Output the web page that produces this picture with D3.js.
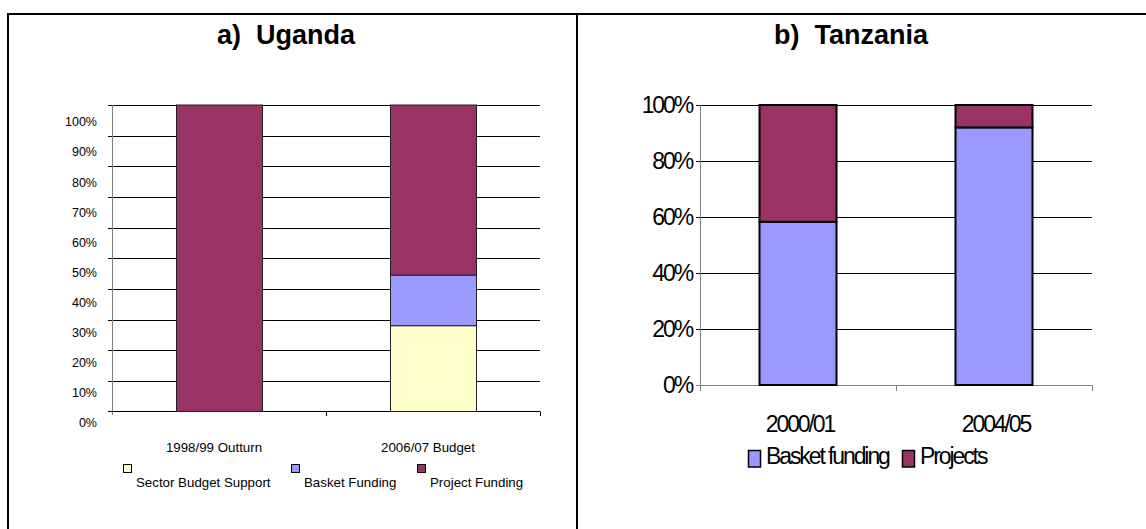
<!DOCTYPE html>
<html><head><meta charset="utf-8">
<script src="https://cdn.jsdelivr.net/npm/d3@7"></script>
<style>body{margin:0;background:#fff}svg{display:block}</style>
</head><body>
<svg id="c" width="1146" height="529"></svg>
<script>
// Uganda data (shares of total, %)
const ugCategories = ["1998/99 Outturn", "2006/07 Budget"];
const ugSeries = ["Sector Budget Support", "Basket Funding", "Project Funding"];
const ugSector = [0, 28];
const ugBasket = [0, 16.5];
const ugProject = [100, 55.5];
const ugTicks = [0,10,20,30,40,50,60,70,80,90,100];

// Tanzania data (%)
const tzCategories = ["2000/01", "2004/05"];
const tzSeries = ["Basket funding", "Projects"];
const tzBasket = [58.3, 92];
const tzProjects = [41.7, 8];
const tzTicks = [0,20,40,60,80,100];

const colors = {sector:"#FFFFCC", basket:"#9999FF", project:"#993366"};
const FONT = "Liberation Sans, Arial, sans-serif";

const svg = d3.select("#c");

// frame
svg.append("line").attr("x1",7).attr("x2",1146).attr("y1",14).attr("y2",14).attr("stroke","#000").attr("stroke-width",2);
svg.append("line").attr("x1",8).attr("x2",8).attr("y1",13).attr("y2",529).attr("stroke","#000").attr("stroke-width",2);
svg.append("line").attr("x1",577).attr("x2",577).attr("y1",13).attr("y2",529).attr("stroke","#000").attr("stroke-width",2);

// ---------- Uganda ----------
{
  const g = svg.append("g");
  g.append("text").attr("x",286).attr("y",44).attr("text-anchor","middle")
    .attr("font-family",FONT).attr("font-weight","bold").attr("font-size",27)
    .attr("xml:space","preserve").text("a)  Uganda");

  const x = d3.scaleBand().domain(ugCategories).range([112,540]).paddingInner(0).paddingOuter(0);
  const y = d3.scaleLinear().domain([0,100]).range([411.5,105]);
  const yLab = d3.scaleLinear().domain([0,100]).range([423,122]);

  // gridlines
  g.append("g").selectAll("line").data(ugTicks.filter(d=>d>0)).join("line")
    .attr("x1",108).attr("x2",540).attr("y1",d=>Math.round(y(d))+0.5).attr("y2",d=>Math.round(y(d))+0.5)
    .attr("stroke","#000").attr("stroke-width",1);
  // y axis line
  g.append("line").attr("x1",112.5).attr("x2",112.5).attr("y1",105).attr("y2",415).attr("stroke","#808080");
  g.append("line").attr("x1",108).attr("x2",112).attr("y1",411.5).attr("y2",411.5).attr("stroke","#000");
  // y labels
  g.append("g").selectAll("text").data(ugTicks).join("text")
    .attr("x",97).attr("y",d=>yLab(d)).attr("dy","0.35em").attr("text-anchor","end")
    .attr("font-family",FONT).attr("font-size",12.5).text(d=>d+"%");

  // x axis line + ticks
  g.append("line").attr("x1",112).attr("x2",540).attr("y1",411.5).attr("y2",411.5).attr("stroke","#000");
  g.append("g").selectAll("line").data([x.range()[0]+x.bandwidth(), x.range()[1]]).join("line")
    .attr("x1",d=>Math.round(d)+0.5).attr("x2",d=>Math.round(d)+0.5).attr("y1",411.5).attr("y2",416).attr("stroke","#000");

  const stack = d3.stack().keys(["sector","basket","project"]);
  const rows = ugCategories.map((c,i)=>({cat:c, sector:ugSector[i], basket:ugBasket[i], project:ugProject[i]}));
  const layers = stack(rows);
  const bw = 86;
  layers.forEach(layer=>{
    g.append("g").selectAll("rect").data(layer.filter(d=>d[1]-d[0]>0)).join("rect")
      .attr("x",d=>x(d.data.cat)+x.bandwidth()/2-bw/2+0.5)
      .attr("y",d=>y(d[1]))
      .attr("width",bw).attr("height",d=>y(d[0])-y(d[1]))
      .attr("fill",colors[layer.key]).attr("stroke","#222").attr("stroke-width",1);
  });

  // category labels
  g.append("g").selectAll("text").data(ugCategories).join("text")
    .attr("x",d=>x(d)+x.bandwidth()/2-5).attr("y",451.5).attr("text-anchor","middle")
    .attr("font-family",FONT).attr("font-size",13.3).text(d=>d);

  // legend
  const legX = [123, 291, 417];
  const keys = ["sector","basket","project"];
  ugSeries.forEach((s,i)=>{
    g.append("rect").attr("x",legX[i]+0.5).attr("y",464.5).attr("width",8).attr("height",8)
      .attr("fill",colors[keys[i]]).attr("stroke","#000");
    g.append("text").attr("x",legX[i]+13).attr("y",486.5).attr("font-family",FONT)
      .attr("font-size",13.3).text(s);
  });
}

// ---------- Tanzania ----------
{
  const g = svg.append("g");
  const LS = -2.1;
  g.append("text").attr("x",851).attr("y",44).attr("text-anchor","middle")
    .attr("font-family",FONT).attr("font-weight","bold").attr("font-size",27)
    .attr("xml:space","preserve").text("b)  Tanzania");

  const x = d3.scaleBand().domain(tzCategories).range([700,1092]).paddingInner(0).paddingOuter(0);
  const y = d3.scaleLinear().domain([0,100]).range([385,105]);

  g.append("g").selectAll("line").data(tzTicks.filter(d=>d>0)).join("line")
    .attr("x1",696).attr("x2",1092).attr("y1",d=>Math.round(y(d))+0.5).attr("y2",d=>Math.round(y(d))+0.5)
    .attr("stroke","#000").attr("stroke-width",1);
  g.append("line").attr("x1",700.5).attr("x2",700.5).attr("y1",105).attr("y2",391).attr("stroke","#808080");
  g.append("line").attr("x1",696).attr("x2",1092).attr("y1",385.5).attr("y2",385.5).attr("stroke","#808080");
  g.append("g").selectAll("line").data([x.range()[0]+x.bandwidth(), x.range()[1]]).join("line")
    .attr("x1",d=>Math.round(d)+0.5).attr("x2",d=>Math.round(d)+0.5).attr("y1",385.5).attr("y2",391).attr("stroke","#808080");

  g.append("g").selectAll("text").data(tzTicks).join("text")
    .attr("x",690-LS).attr("y",d=>y(d)).attr("dy","0.35em").attr("text-anchor","end")
    .attr("font-family",FONT).attr("font-size",23).attr("letter-spacing",LS).text(d=>d+"%");

  const stack = d3.stack().keys(["basket","project"]);
  const rows = tzCategories.map((c,i)=>({cat:c, basket:tzBasket[i], project:tzProjects[i]}));
  const layers = stack(rows);
  const bw = 77;
  layers.forEach(layer=>{
    g.append("g").selectAll("rect").data(layer).join("rect")
      .attr("x",d=>x(d.data.cat)+x.bandwidth()/2-bw/2)
      .attr("y",d=>y(d[1]))
      .attr("width",bw).attr("height",d=>y(d[0])-y(d[1]))
      .attr("fill",colors[layer.key]).attr("stroke","#000").attr("stroke-width",2);
  });

  g.append("g").selectAll("text").data(tzCategories).join("text")
    .attr("x",d=>x(d)+x.bandwidth()/2+2).attr("y",432).attr("text-anchor","middle")
    .attr("font-family",FONT).attr("font-size",23).attr("letter-spacing",LS).text(d=>d);

  const legX = [748, 902];
  const keys = ["basket","project"];
  tzSeries.forEach((s,i)=>{
    g.append("rect").attr("x",legX[i]+0.5).attr("y",450.5).attr("width",12).attr("height",16.5)
      .attr("fill",colors[keys[i]]).attr("stroke","#000").attr("stroke-width",1.5);
    g.append("text").attr("x",legX[i]+18).attr("y",463.5).attr("font-family",FONT)
      .attr("font-size",23).attr("letter-spacing",LS).text(s);
  });
}
</script>
</body></html>
